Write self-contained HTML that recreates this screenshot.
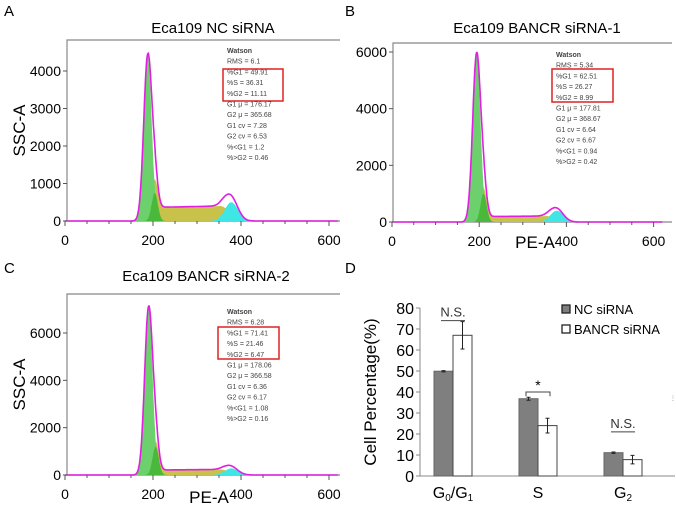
<!DOCTYPE html>
<html><head><meta charset="utf-8"><style>
body{margin:0;background:#fff;width:676px;height:506px;overflow:hidden}
svg{display:block;font-family:"Liberation Sans",Arial,sans-serif}
</style></head><body>
<svg id="fig" width="676" height="506" viewBox="0 0 676 506"></svg>
<script>
// ---- Flow panel data ----
const panelLabels=["A","B","C"];
const panelTitles=["Eca109 NC siRNA","Eca109 BANCR siRNA-1","Eca109 BANCR siRNA-2"];
const g1Peaks=[4400,5900,7050];
const g1Means=[188,194,190];
const sPlateau=[360,190,210];
const g2Peaks=[500,400,280];
const g2Means=[378,378,378];
const yTicksA=[0,1000,2000,3000,4000];
const yTicksB=[0,2000,4000,6000];
const yTicksC=[0,2000,4000,6000];
const xTicks=[0,200,400,600];
const watsonText=[
["Watson","RMS = 6.1","%G1 = 49.91","%S = 36.31","%G2 = 11.11","G1 μ = 176.17","G2 μ = 365.68","G1 cv = 7.28","G2 cv = 6.53","%<G1 = 1.2","%>G2 = 0.46"],
["Watson","RMS = 5.34","%G1 = 62.51","%S = 26.27","%G2 = 8.99","G1 μ = 177.81","G2 μ = 368.67","G1 cv = 6.64","G2 cv = 6.67","%<G1 = 0.94","%>G2 = 0.42"],
["Watson","RMS = 6.28","%G1 = 71.41","%S = 21.46","%G2 = 6.47","G1 μ = 178.06","G2 μ = 366.58","G1 cv = 6.36","G2 cv = 6.17","%<G1 = 1.08","%>G2 = 0.16"]];
// ---- Bar chart data ----
const categories=["G0/G1","S","G2"];
const ncValues=[49.9,36.8,11.1];
const bancrValues=[67,24,7.8];
const ncErrors=[0.3,0.7,0.3];
const bancrErrors=[6.5,3.5,2.0];
const barTicks=[0,10,20,30,40,50,60,70,80];

const NS="http://www.w3.org/2000/svg";
const svg=document.getElementById('fig');
function mk(tag,attrs,parent,text){const e=document.createElementNS(NS,tag);for(const k in attrs)e.setAttribute(k,attrs[k]);if(text!==undefined)e.textContent=text;(parent||svg).appendChild(e);return e;}

const layouts=[
 {left:67,right:340,top:40,zero:221,yPer:37.5/1000,x0:65,xs:0.44,ticks:yTicksA,txt:[227,53],box:[223,69,60,32],title:[213,33],lab:[4,16],pe:null},
 {left:393,right:672,top:43,zero:222,yPer:170/6000,x0:392,xs:0.436,ticks:yTicksB,txt:[556,57],box:[552,69,61,33],title:[537,33],lab:[345,16],pe:[535,248]},
 {left:67,right:340,top:294,zero:475,yPer:142/6000,x0:65,xs:0.44,ticks:yTicksC,txt:[227,314],box:[218,327,61,32],title:[206,281],lab:[4,273],pe:[209,503]}];

function gauss(v,m,s){return Math.exp(-0.5*((v-m)/s)**2);}
layouts.forEach((L,i)=>{
 const g=mk('g',{},svg);
 
 
 const X=v=>L.x0+v*L.xs, Y=c=>L.zero-c*L.yPer;
 let t=mk('text',{x:L.lab[0],y:L.lab[1],'font-size':15},g,panelLabels[i]);
 
 t=mk('text',{x:L.title[0],y:L.title[1],'font-size':15,'text-anchor':'middle'},g,panelTitles[i]);
 
 const fr=mk('path',{d:`M${L.left},${L.zero} L${L.left},${L.top} L${L.right},${L.top} M${L.left},${L.zero} L${L.right},${L.zero}`,stroke:'#888',fill:'none','stroke-width':1.2},g);
 
 const m1=g1Means[i],m2=g2Means[i];
 const g1=v=>g1Peaks[i]*gauss(v,m1,9);
 const g1b=v=>g1Peaks[i]*0.17*gauss(v,m1+16,7);
 const sF=v=>sPlateau[i]*(v<m1?0:Math.min(1,(v-m1)/15))*(v>m2-25?gauss(v,m2-25,20):1)*(1+(v-m1)/1500);
 const g2=v=>g2Peaks[i]*gauss(v,m2,15);
 function area(f,col,name){let d=`M${X(130)},${Y(0)}`;for(let v=130;v<=440;v+=1)d+=` L${X(v).toFixed(1)},${Y(f(v)).toFixed(1)}`;d+=` L${X(440)},${Y(0)}Z`;
  const p=mk('path',{d,fill:col,stroke:'none'},g);}
 area(v=>sF(v)+g1b(v),'#c9c24a','s-phase-fill');
 area(g2,'#3fe6e6','g2-fill');
 area(g1,'#6cd06c','g1-fill');
 area(g1b,'#4ab83a','g1-shoulder-fill');
 let d='';for(let v=0;v<=620;v+=1){d+=(v?' L':'M')+X(v).toFixed(1)+','+Y(g1(v)+g1b(v)+sF(v)+g2(v)).toFixed(1);}
 const ol=mk('path',{d,fill:'none',stroke:'#e020e0','stroke-width':1.6},g);
 
 L.ticks.forEach(tv=>{const y=Y(tv);mk('line',{x1:L.left-4,x2:L.left,y1:y,y2:y,stroke:'#555'},g);
  const tl=mk('text',{x:L.left-6,y:y+5,'font-size':14,'text-anchor':'end'},g,tv);
  });
 for(let v=0;v<=600;v+=50){const x=X(v);mk('line',{x1:x,x2:x,y1:L.zero,y2:L.zero+(v%200?3:5),stroke:'#555'},g);}
 xTicks.forEach(tv=>{const tl=mk('text',{x:X(tv),y:L.zero+24,'font-size':14,'text-anchor':'middle'},g,tv);
  });
 if(i!==1){const yl=mk('text',{x:0,y:0,'font-size':17,'text-anchor':'middle',transform:`translate(25,${(L.top+L.zero)/2}) rotate(-90)`},g,'SSC-A');
  }
 if(L.pe){const xl=mk('text',{x:L.pe[0],y:L.pe[1],'font-size':17,'text-anchor':'middle'},g,'PE-A');
  }
 watsonText[i].forEach((s,k)=>{const tl=mk('text',{x:L.txt[0],y:L.txt[1]+k*10.7,'font-size':7,fill:'#444','font-weight':k==0?'bold':'normal'},g,s);
  });
 const bx=mk('rect',{x:L.box[0],y:L.box[1],width:L.box[2],height:L.box[3],fill:'none',stroke:'#e02020','stroke-width':1.5},g);
 
});

// ---- Bar chart D ----
const bg=mk('g',{},svg);

const ax0=420,ay0=476,ayPer=168/80,catX=[453,538,623],bw=19;
const BY=v=>ay0-v*ayPer;
let tt=mk('text',{x:345,y:273,'font-size':15},bg,'D');
mk('line',{x1:ax0,x2:ax0,y1:BY(80),y2:ay0,stroke:'#888'},bg);
mk('line',{x1:ax0,x2:675,y1:ay0,y2:ay0,stroke:'#888'},bg);
barTicks.forEach(v=>{mk('line',{x1:ax0-4,x2:ax0,y1:BY(v),y2:BY(v),stroke:'#888'},bg);
 const tl=mk('text',{x:ax0-6,y:BY(v)+6,'font-size':16,'text-anchor':'end'},bg,v);
 });
const yt=mk('text',{x:0,y:0,'font-size':17,'text-anchor':'middle',transform:`translate(${ax0-44},${BY(40)}) rotate(-90)`},bg,'Cell Percentage(%)');

categories.forEach((c,k)=>{
 const cx=catX[k];
 const b1=mk('rect',{x:cx-bw,y:BY(ncValues[k]),width:bw,height:ncValues[k]*ayPer,fill:'#7f7f7f',stroke:'#666'},bg);
 
 const b2=mk('rect',{x:cx,y:BY(bancrValues[k]),width:bw,height:bancrValues[k]*ayPer,fill:'#fff',stroke:'#444'},bg);
 
 [[cx-bw/2,ncValues[k],ncErrors[k]],[cx+bw/2,bancrValues[k],bancrErrors[k]]].forEach(([x,v,e])=>{
  const eb=mk('path',{d:`M${x},${BY(v-e)} L${x},${BY(v+e)} M${x-2},${BY(v-e)} L${x+2},${BY(v-e)} M${x-2},${BY(v+e)} L${x+2},${BY(v+e)}`,stroke:'#222',fill:'none'},bg);
  });
 const cl=mk('text',{x:cx,y:ay0+22,'font-size':16,'text-anchor':'middle'},bg);
 
 if(c==="G0/G1"){cl.innerHTML='G<tspan font-size="10" dy="3">0</tspan><tspan dy="-3">/G</tspan><tspan font-size="10" dy="3">1</tspan>';}
 else if(c==="G2"){cl.innerHTML='G<tspan font-size="10" dy="3">2</tspan>';}
 else cl.textContent=c;
});
[[0,'N.S.',BY(74)],[2,'N.S.',BY(21)]].forEach(([k,s,y])=>{
 mk('line',{x1:catX[k]-12,x2:catX[k]+12,y1:y,y2:y,stroke:'#444'},bg);
 const st=mk('text',{x:catX[k],y:y-4,'font-size':13,'text-anchor':'middle',fill:'#333'},bg,s);
 });
mk('path',{d:`M${catX[1]-12},${BY(38)} L${catX[1]-12},${BY(40)} L${catX[1]+12},${BY(40)} L${catX[1]+12},${BY(38)}`,stroke:'#444',fill:'none'},bg);
let st=mk('text',{x:catX[1],y:BY(40)-2,'font-size':14,'text-anchor':'middle'},bg,'*');

[['#7f7f7f','NC siRNA',314],['#fff','BANCR siRNA',334]].forEach(([col,s,y])=>{
 const lg=mk('g',{},bg);
 mk('rect',{x:562,y:y-9,width:8,height:8,fill:col,stroke:'#222','stroke-width':1.3},lg);
 mk('text',{x:574,y:y,'font-size':13},lg,s);});
mk('text',{x:670,y:400,'font-size':6,fill:'#888'},bg,'⋮');
</script>
</body></html>
